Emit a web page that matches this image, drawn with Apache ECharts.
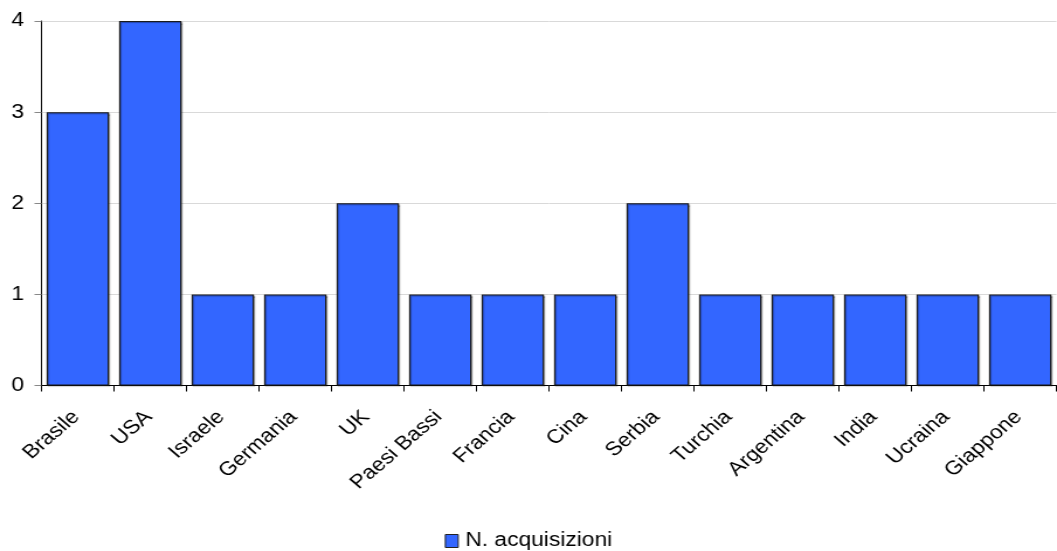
<!DOCTYPE html>
<html>
<head>
<meta charset="utf-8">
<script src="https://cdn.jsdelivr.net/npm/echarts@6/dist/echarts.min.js"></script>
<style>
  html, body { margin: 0; padding: 0; background: #fff; overflow: hidden; }
  /* the chart is drawn slightly narrower and widened to fill the 1057px frame */
  #chart { width: 904px; height: 551px; transform: scaleX(1.16925); transform-origin: 0 0; }
</style>
</head>
<body>
<div id="chart"></div>
<script>
// Acquisizioni per paese
const categories = ['Brasile', 'USA', 'Israele', 'Germania', 'UK', 'Paesi Bassi', 'Francia', 'Cina', 'Serbia', 'Turchia', 'Argentina', 'India', 'Ucraina', 'Giappone'];
const acquisizioni = [3, 4, 1, 1, 2, 1, 1, 1, 2, 1, 1, 1, 1, 1];
const seriesName = 'N. acquisizioni';
const yTicks = [0, 1, 2, 3, 4];

const chart = echarts.init(document.getElementById('chart'));
chart.setOption({
  animation: false,
  textStyle: { fontFamily: 'Liberation Sans, Arial, sans-serif' },
  grid: { left: 35.5, right: 0.5, top: 21, bottom: 165.5, containLabel: false },
  legend: {
    data: [seriesName],
    top: 531,
    left: 'center',
    padding: 0,
    itemWidth: 11,
    itemHeight: 13,
    itemGap: 4,
    icon: 'rect',
    itemStyle: { borderColor: '#222', borderWidth: 1 },
    textStyle: { fontSize: 19.5, color: '#000', padding: [0, 0, 0, 1] }
  },
  xAxis: {
    type: 'category',
    data: categories,
    axisLine: { lineStyle: { color: '#000', width: 1 } },
    axisTick: { show: true, length: 6, lineStyle: { color: '#000' } },
    axisLabel: {
      rotate: 45,
      interval: 0,
      fontSize: 19.5,
      color: '#000',
      margin: 27,
      padding: [0, 2, 0, 0]
    }
  },
  yAxis: {
    type: 'value',
    min: yTicks[0],
    max: yTicks[yTicks.length - 1],
    interval: 1,
    axisLine: { show: true, lineStyle: { color: '#000', width: 1 } },
    axisTick: { show: true, length: 6, lineStyle: { color: '#888' } },
    axisLabel: { fontSize: 19.5, color: '#000', margin: 15 },
    splitLine: { lineStyle: { color: '#d9d9d9', width: 1 } }
  },
  series: [{
    name: seriesName,
    type: 'bar',
    data: acquisizioni,
    barCategoryGap: '14%',
    itemStyle: {
      color: '#3366ff',
      borderColor: '#1a1a1a',
      borderWidth: 1.1,
      shadowColor: 'rgba(0,0,0,0.35)',
      shadowOffsetX: 1,
      shadowOffsetY: 1,
      shadowBlur: 1
    }
  }]
});
</script>
</body>
</html>
